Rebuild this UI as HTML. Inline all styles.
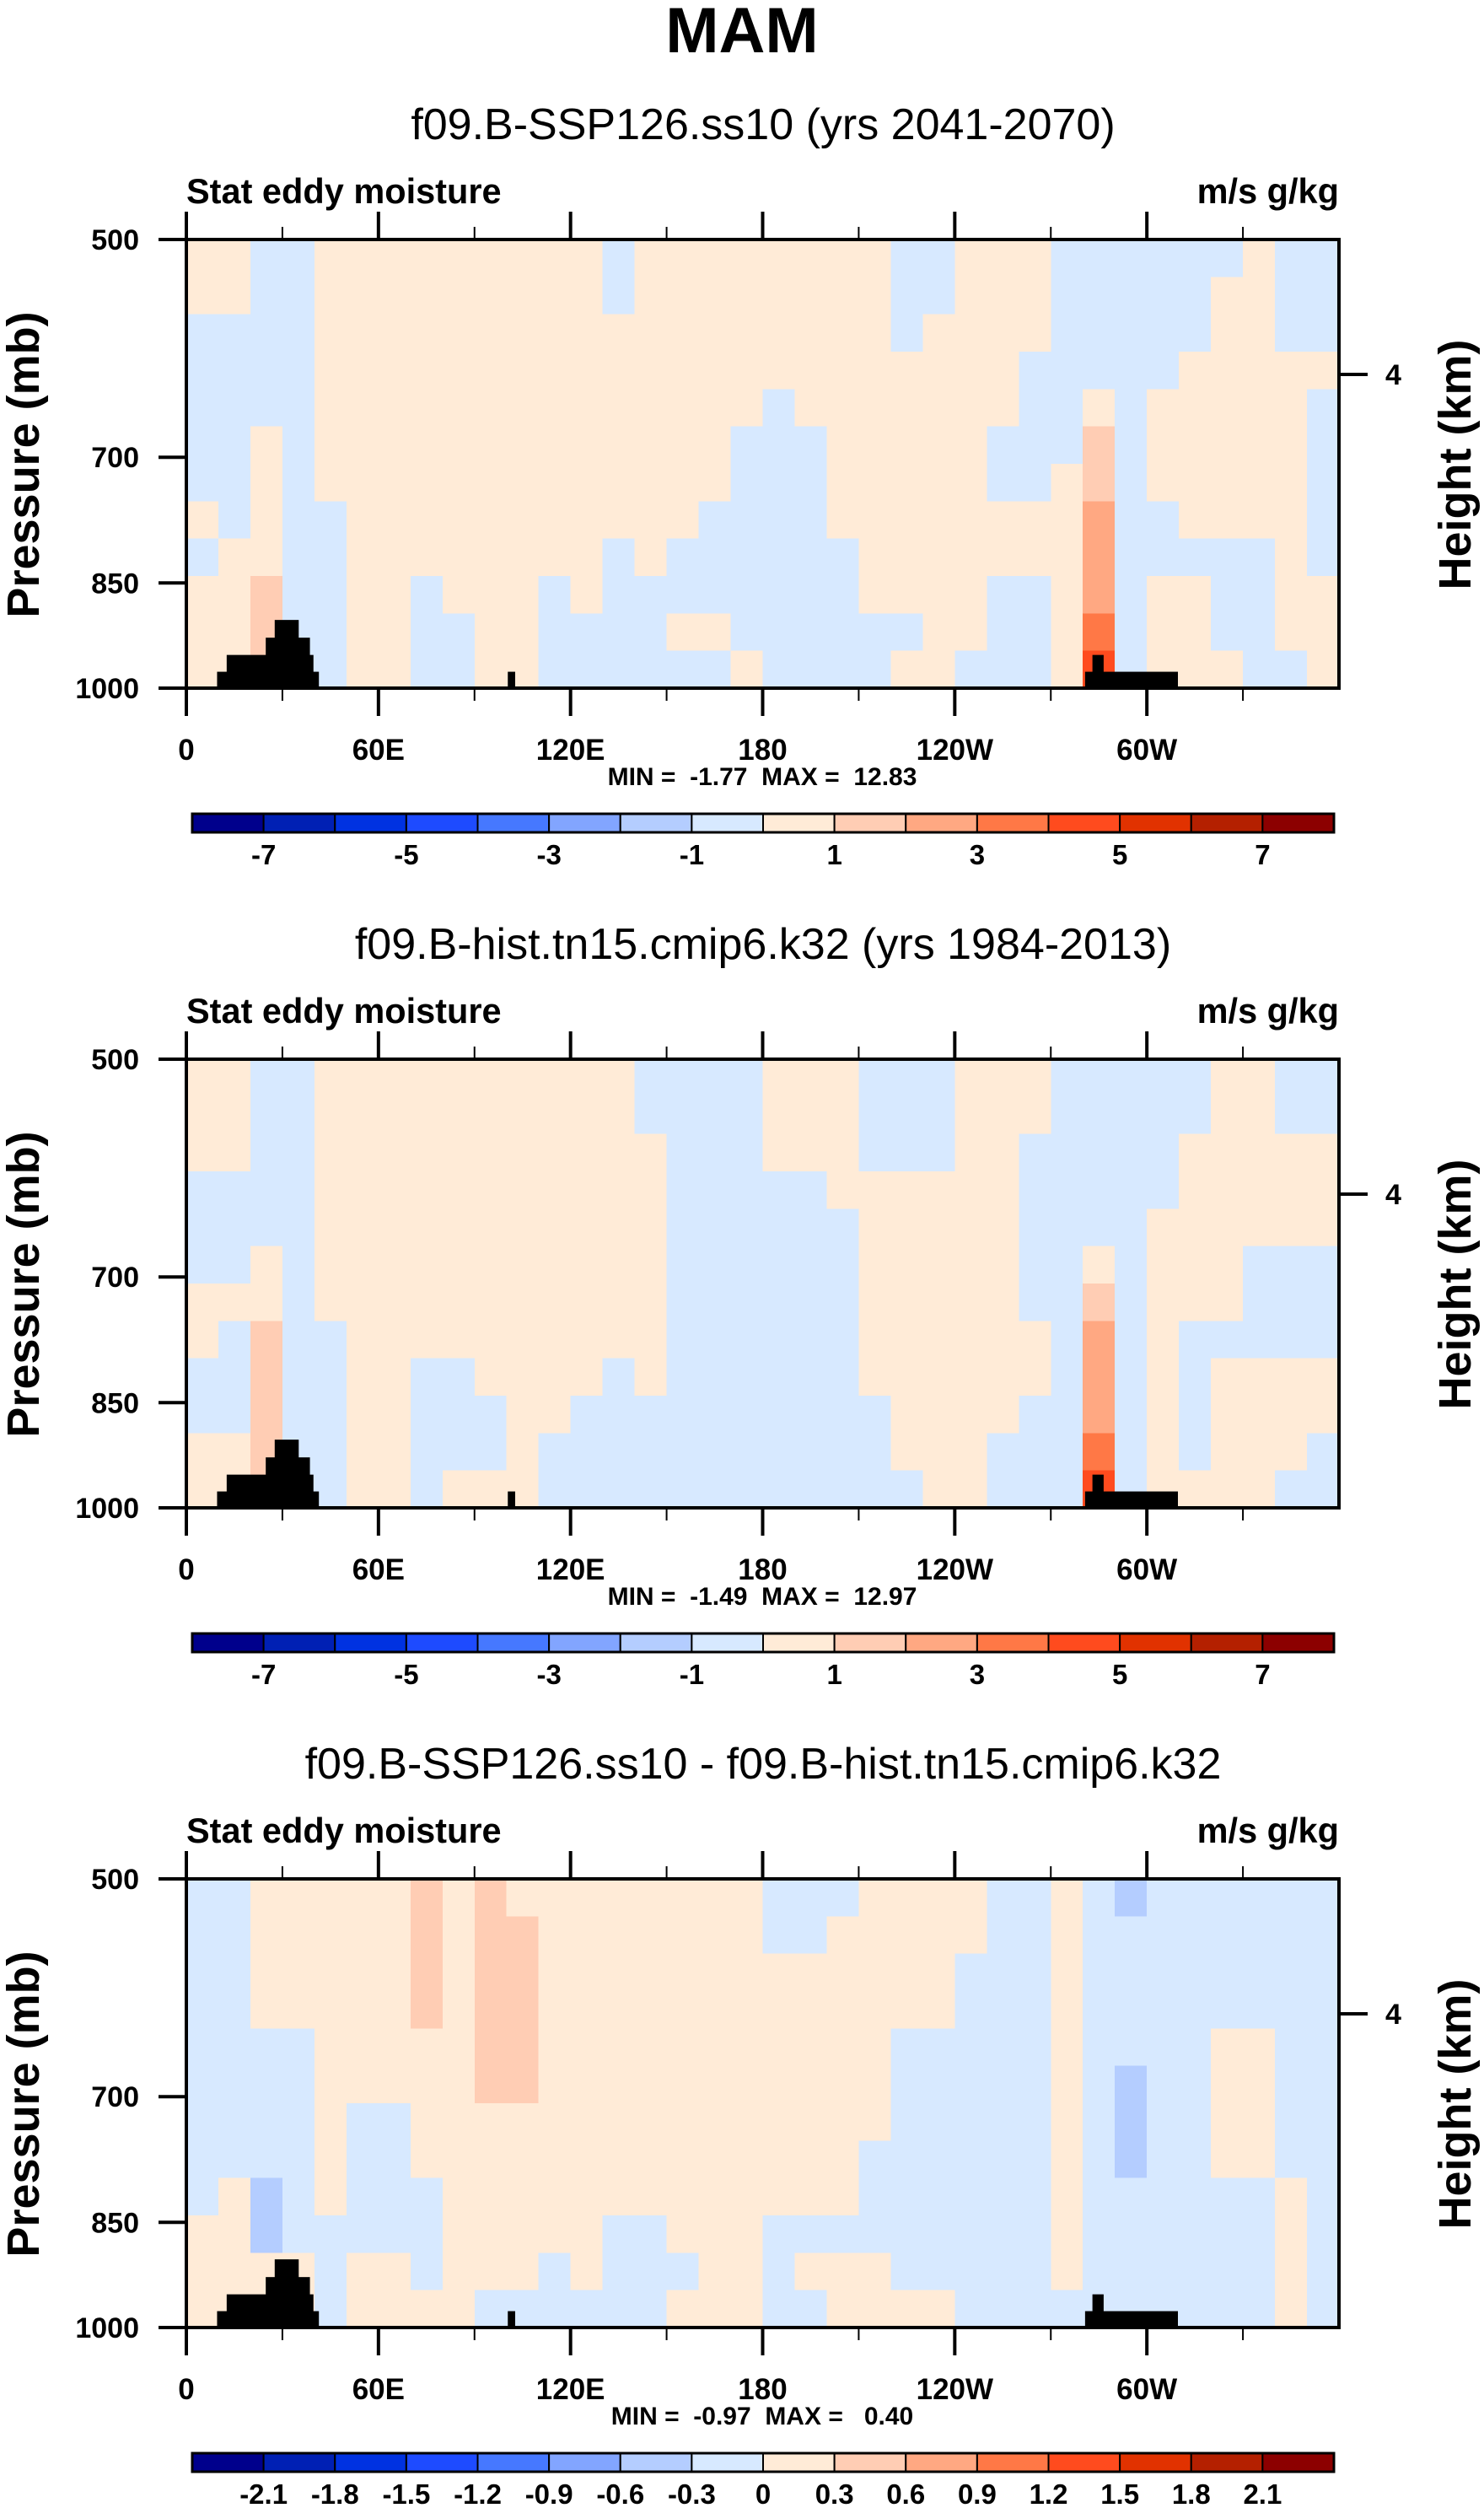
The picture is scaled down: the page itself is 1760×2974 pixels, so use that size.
<!DOCTYPE html>
<html><head><meta charset="utf-8">
<style>
html,body{margin:0;padding:0;background:#fff;}
svg{display:block;font-family:"Liberation Sans",sans-serif;}
.pre{white-space:pre;}
</style></head>
<body>
<svg id="fig" width="1760" height="2974" viewBox="0 0 1760 2974" xmlns="http://www.w3.org/2000/svg">
<text x="880" y="62" text-anchor="middle" font-size="76" font-weight="bold">MAM</text>
</svg>
<script>
// ---------- data ----------
const lonTicks = [0, 60, 120, 180, 240, 300];
const lonTickLabels = ["0", "60E", "120E", "180", "120W", "60W"];
const presTicks = [500, 700, 850, 1000];
const presTickLabels = ["500", "700", "850", "1000"];
const levelsA = [-7,-6,-5,-4,-3,-2,-1,0,1,2,3,4,5,6,7];
const levelsALabels = ["-7","","-5","","-3","","-1","","1","","3","","5","","7"];
const levelsD = [-2.1,-1.8,-1.5,-1.2,-0.9,-0.6,-0.3,0,0.3,0.6,0.9,1.2,1.5,1.8,2.1];
const levelsDLabels = ["-2.1","-1.8","-1.5","-1.2","-0.9","-0.6","-0.3","0","0.3","0.6","0.9","1.2","1.5","1.8","2.1"];
const palette = ["#00008c","#0020b4","#0032e1","#1e4bff","#4678ff","#82a5ff","#b4cdff","#d7e9ff","#ffebd7","#ffcdb4","#ffa882","#ff7846","#ff4b1e","#e13200","#b42000","#8c0000"];
const panelTitles = ["f09.B-SSP126.ss10 (yrs 2041-2070)","f09.B-hist.tn15.cmip6.k32 (yrs 1984-2013)","f09.B-SSP126.ss10 - f09.B-hist.tn15.cmip6.k32"];
const panelMin = ["-1.77","-1.49","-0.97"];
const panelMax = ["12.83","12.97"," 0.40"];
// topography blocks: [lonStart, lonEnd, pressureTop]
const topoLon0 = [9.6, 12.6, 24.8, 27.6, 100.4, 280.7, 283.0];
const topoLon1 = [41.4, 39.7, 38.6, 35.1, 102.7, 309.7, 286.5];
const topoPres = [975, 950, 925, 900, 975, 975, 950];

// field columns (10 deg each, 0..350), each column 12 bands top(500mb) -> bottom(1000mb)
const field1 = [
[.5,.5,-.5,-.5,-.5,-.5,-.5,.5,-.5,.5,.5,.5],
[.5,.5,-.5,-.5,-.5,-.5,-.5,-.5,.5,.5,.5,.5],
[-.5,-.5,-.5,-.5,-.5,.5,.5,.5,.5,1.5,1.5,1.5],
[-.5,-.5,-.5,-.5,-.5,-.5,-.5,-.5,-.5,-.5,-.5,-.5],
[.5,.5,.5,.5,.5,.5,.5,-.5,-.5,-.5,-.5,-.5],
[.5,.5,.5,.5,.5,.5,.5,.5,.5,.5,.5,.5],
[.5,.5,.5,.5,.5,.5,.5,.5,.5,.5,.5,.5],
[.5,.5,.5,.5,.5,.5,.5,.5,.5,-.5,-.5,-.5],
[.5,.5,.5,.5,.5,.5,.5,.5,.5,.5,-.5,-.5],
[.5,.5,.5,.5,.5,.5,.5,.5,.5,.5,.5,.5],
[.5,.5,.5,.5,.5,.5,.5,.5,.5,.5,.5,.5],
[.5,.5,.5,.5,.5,.5,.5,.5,.5,-.5,-.5,-.5],
[.5,.5,.5,.5,.5,.5,.5,.5,.5,.5,-.5,-.5],
[-.5,-.5,.5,.5,.5,.5,.5,.5,-.5,-.5,-.5,-.5],
[.5,.5,.5,.5,.5,.5,.5,.5,.5,-.5,-.5,-.5],
[.5,.5,.5,.5,.5,.5,.5,.5,-.5,-.5,.5,-.5],
[.5,.5,.5,.5,.5,.5,.5,-.5,-.5,-.5,.5,-.5],
[.5,.5,.5,.5,.5,-.5,-.5,-.5,-.5,-.5,-.5,.5],
[.5,.5,.5,.5,-.5,-.5,-.5,-.5,-.5,-.5,-.5,-.5],
[.5,.5,.5,.5,.5,-.5,-.5,-.5,-.5,-.5,-.5,-.5],
[.5,.5,.5,.5,.5,.5,.5,.5,-.5,-.5,-.5,-.5],
[.5,.5,.5,.5,.5,.5,.5,.5,.5,.5,-.5,-.5],
[-.5,-.5,-.5,.5,.5,.5,.5,.5,.5,.5,-.5,.5],
[-.5,-.5,.5,.5,.5,.5,.5,.5,.5,.5,.5,.5],
[.5,.5,.5,.5,.5,.5,.5,.5,.5,.5,.5,-.5],
[.5,.5,.5,.5,.5,-.5,-.5,.5,.5,-.5,-.5,-.5],
[.5,.5,.5,-.5,-.5,-.5,-.5,.5,.5,-.5,-.5,-.5],
[-.5,-.5,-.5,-.5,-.5,-.5,.5,.5,.5,.5,.5,.5],
[-.5,-.5,-.5,-.5,.5,1.5,1.5,2.5,2.5,2.5,3.5,4.5],
[-.5,-.5,-.5,-.5,-.5,-.5,-.5,-.5,-.5,-.5,-.5,-.5],
[-.5,-.5,-.5,-.5,.5,.5,.5,-.5,-.5,.5,.5,.5],
[-.5,-.5,-.5,.5,.5,.5,.5,.5,-.5,.5,.5,.5],
[-.5,.5,.5,.5,.5,.5,.5,.5,-.5,-.5,-.5,.5],
[.5,.5,.5,.5,.5,.5,.5,.5,-.5,-.5,-.5,-.5],
[-.5,-.5,-.5,.5,.5,.5,.5,.5,.5,.5,.5,-.5],
[-.5,-.5,-.5,.5,-.5,-.5,-.5,-.5,-.5,.5,.5,.5]
];
const field2 = [
[.5,.5,.5,-.5,-.5,-.5,.5,.5,-.5,-.5,.5,.5],
[.5,.5,.5,-.5,-.5,-.5,.5,-.5,-.5,-.5,.5,.5],
[-.5,-.5,-.5,-.5,-.5,.5,.5,1.5,1.5,1.5,1.5,1.5],
[-.5,-.5,-.5,-.5,-.5,-.5,-.5,-.5,-.5,-.5,-.5,-.5],
[.5,.5,.5,.5,.5,.5,.5,-.5,-.5,-.5,-.5,-.5],
[.5,.5,.5,.5,.5,.5,.5,.5,.5,.5,.5,.5],
[.5,.5,.5,.5,.5,.5,.5,.5,.5,.5,.5,.5],
[.5,.5,.5,.5,.5,.5,.5,.5,-.5,-.5,-.5,-.5],
[.5,.5,.5,.5,.5,.5,.5,.5,-.5,-.5,-.5,.5],
[.5,.5,.5,.5,.5,.5,.5,.5,.5,-.5,-.5,.5],
[.5,.5,.5,.5,.5,.5,.5,.5,.5,.5,.5,.5],
[.5,.5,.5,.5,.5,.5,.5,.5,.5,.5,-.5,-.5],
[.5,.5,.5,.5,.5,.5,.5,.5,.5,-.5,-.5,-.5],
[.5,.5,.5,.5,.5,.5,.5,.5,-.5,-.5,-.5,-.5],
[-.5,-.5,.5,.5,.5,.5,.5,.5,.5,-.5,-.5,-.5],
[-.5,-.5,-.5,-.5,-.5,-.5,-.5,-.5,-.5,-.5,-.5,-.5],
[-.5,-.5,-.5,-.5,-.5,-.5,-.5,-.5,-.5,-.5,-.5,-.5],
[-.5,-.5,-.5,-.5,-.5,-.5,-.5,-.5,-.5,-.5,-.5,-.5],
[.5,.5,.5,-.5,-.5,-.5,-.5,-.5,-.5,-.5,-.5,-.5],
[.5,.5,.5,-.5,-.5,-.5,-.5,-.5,-.5,-.5,-.5,-.5],
[.5,.5,.5,.5,-.5,-.5,-.5,-.5,-.5,-.5,-.5,-.5],
[-.5,-.5,-.5,.5,.5,.5,.5,.5,.5,-.5,-.5,-.5],
[-.5,-.5,-.5,.5,.5,.5,.5,.5,.5,.5,.5,-.5],
[-.5,-.5,-.5,.5,.5,.5,.5,.5,.5,.5,.5,.5],
[.5,.5,.5,.5,.5,.5,.5,.5,.5,.5,.5,.5],
[.5,.5,.5,.5,.5,.5,.5,.5,.5,.5,-.5,-.5],
[.5,.5,-.5,-.5,-.5,-.5,-.5,.5,.5,-.5,-.5,-.5],
[-.5,-.5,-.5,-.5,-.5,-.5,-.5,-.5,-.5,-.5,-.5,-.5],
[-.5,-.5,-.5,-.5,-.5,.5,1.5,2.5,2.5,2.5,3.5,4.5],
[-.5,-.5,-.5,-.5,-.5,-.5,-.5,-.5,-.5,-.5,-.5,-.5],
[-.5,-.5,-.5,-.5,.5,.5,.5,.5,.5,.5,.5,.5],
[-.5,-.5,.5,.5,.5,.5,.5,-.5,-.5,-.5,-.5,.5],
[.5,.5,.5,.5,.5,.5,.5,-.5,.5,.5,.5,.5],
[.5,.5,.5,.5,.5,-.5,-.5,-.5,.5,.5,.5,.5],
[-.5,-.5,.5,.5,.5,-.5,-.5,-.5,.5,.5,.5,-.5],
[-.5,-.5,.5,.5,.5,-.5,-.5,-.5,.5,.5,-.5,-.5]
];
const field3 = [
[-.15,-.15,-.15,-.15,-.15,-.15,-.15,-.15,-.15,.15,.15,.15],
[-.15,-.15,-.15,-.15,-.15,-.15,-.15,-.15,.15,.15,.15,.15],
[.15,.15,.15,.15,-.15,-.15,-.15,-.15,-.45,-.45,.15,.15],
[.15,.15,.15,.15,-.15,-.15,-.15,-.15,-.15,-.15,.15,.15],
[.15,.15,.15,.15,.15,.15,.15,.15,.15,-.15,-.15,-.15],
[.15,.15,.15,.15,.15,.15,-.15,-.15,-.15,-.15,.15,.15],
[.15,.15,.15,.15,.15,.15,-.15,-.15,-.15,-.15,.15,.15],
[.45,.45,.45,.45,.15,.15,.15,.15,-.15,-.15,-.15,.15],
[.15,.15,.15,.15,.15,.15,.15,.15,.15,.15,.15,.15],
[.45,.45,.45,.45,.45,.45,.15,.15,.15,.15,.15,-.15],
[.15,.45,.45,.45,.45,.45,.15,.15,.15,.15,.15,-.15],
[.15,.15,.15,.15,.15,.15,.15,.15,.15,.15,-.15,-.15],
[.15,.15,.15,.15,.15,.15,.15,.15,.15,.15,.15,-.15],
[.15,.15,.15,.15,.15,.15,.15,.15,.15,-.15,-.15,-.15],
[.15,.15,.15,.15,.15,.15,.15,.15,.15,-.15,-.15,-.15],
[.15,.15,.15,.15,.15,.15,.15,.15,.15,.15,-.15,.15],
[.15,.15,.15,.15,.15,.15,.15,.15,.15,.15,.15,.15],
[.15,.15,.15,.15,.15,.15,.15,.15,.15,.15,.15,.15],
[-.15,-.15,.15,.15,.15,.15,.15,.15,.15,-.15,-.15,-.15],
[-.15,-.15,.15,.15,.15,.15,.15,.15,.15,-.15,.15,-.15],
[-.15,.15,.15,.15,.15,.15,.15,.15,.15,-.15,.15,.15],
[.15,.15,.15,.15,.15,.15,.15,-.15,-.15,-.15,.15,.15],
[.15,.15,.15,.15,-.15,-.15,-.15,-.15,-.15,-.15,-.15,.15],
[.15,.15,.15,.15,-.15,-.15,-.15,-.15,-.15,-.15,-.15,.15],
[.15,.15,-.15,-.15,-.15,-.15,-.15,-.15,-.15,-.15,-.15,-.15],
[-.15,-.15,-.15,-.15,-.15,-.15,-.15,-.15,-.15,-.15,-.15,-.15],
[-.15,-.15,-.15,-.15,-.15,-.15,-.15,-.15,-.15,-.15,-.15,-.15],
[.15,.15,.15,.15,.15,.15,.15,.15,.15,.15,.15,-.15],
[-.15,-.15,-.15,-.15,-.15,-.15,-.15,-.15,-.15,-.15,-.15,-.15],
[-.45,-.15,-.15,-.15,-.15,-.45,-.45,-.45,-.15,-.15,-.15,-.15],
[-.15,-.15,-.15,-.15,-.15,-.15,-.15,-.15,-.15,-.15,-.15,-.15],
[-.15,-.15,-.15,-.15,-.15,-.15,-.15,-.15,-.15,-.15,-.15,-.15],
[-.15,-.15,-.15,-.15,.15,.15,.15,.15,-.15,-.15,-.15,-.15],
[-.15,-.15,-.15,-.15,.15,.15,.15,.15,-.15,-.15,-.15,-.15],
[-.15,-.15,-.15,-.15,-.15,-.15,-.15,-.15,.15,.15,.15,.15],
[-.15,-.15,-.15,-.15,-.15,-.15,-.15,-.15,-.15,-.15,-.15,-.15]
];

// ---------- drawing ----------
const NS = "http://www.w3.org/2000/svg";
const svg = document.getElementById("fig");
const PL = 221, PR = 1588, PT = 284, PB = 816, DY = 972;
const CBL = 228, CBR = 1582, CBT = 965, CBB = 987;
function mk(tag, attrs, parent) {
  const e = document.createElementNS(NS, tag);
  for (const k in attrs) e.setAttribute(k, attrs[k]);
  (parent || svg).appendChild(e);
  return e;
}
function xScale(lon) { return PL + (lon / 360) * (PR - PL); }
function yScale(p, dy) { return PT + dy + (Math.log(p / 500) / Math.log(2)) * (PB - PT); }
function yFrac(f, dy) { return PT + dy + f * (PB - PT); }
function colorFor(v, levels) {
  let i = 0;
  while (i < levels.length && v >= levels[i]) i++;
  return palette[i];
}

const fields = [field1, field2, field3];
const levelSets = [levelsA, levelsA, levelsD];
const levelLabelSets = [levelsALabels, levelsALabels, levelsDLabels];

for (let k = 0; k < 3; k++) {
  const dy = k * DY;
  const g = mk("g", {});
  
  

  const st = mk("text", {x: 905, y: 165 + dy, "text-anchor": "middle", "font-size": 52}, g);
  st.textContent = panelTitles[k];
  
  

  const lt = mk("text", {x: PL, y: 241 + dy, "font-size": 41.5, "font-weight": "bold"}, g);
  lt.textContent = "Stat eddy moisture";
  
  
  const rt = mk("text", {x: PR, y: 241 + dy, "text-anchor": "end", "font-size": 41.5, "font-weight": "bold"}, g);
  rt.textContent = "m/s g/kg";
  
  

  // field cells
  const field = fields[k];
  const nc = field.length;
  const fg = mk("g", {"shape-rendering": "crispEdges"}, g);
  
  
  for (let c = 0; c < nc; c++) {
    const col = field[c];
    const nr = col.length;
    const x0 = xScale(c * 360 / nc), x1 = xScale((c + 1) * 360 / nc);
    for (let r = 0; r < nr; r++) {
      const y0 = yFrac(r / nr, dy), y1 = yFrac((r + 1) / nr, dy);
      const cell = mk("rect", {x: x0, y: y0, width: x1 - x0 + 0.6, height: y1 - y0 + 0.6, fill: colorFor(col[r], levelSets[k])}, fg);
      
      
    }
  }
  // topography
  for (let i = 0; i < topoLon0.length; i++) {
    const x0 = xScale(topoLon0[i]), x1 = xScale(topoLon1[i]);
    const y0 = yScale(topoPres[i], dy);
    const t = mk("rect", {x: x0, y: y0, width: x1 - x0, height: PB + dy - y0, fill: "#000"}, g);
    
    
  }
  // frame
  const fr = mk("rect", {x: PL, y: PT + dy, width: PR - PL, height: PB - PT, fill: "none", stroke: "#000", "stroke-width": 4}, g);
  
  

  // x ticks
  for (let lon = 0; lon <= 330; lon += 30) {
    const x = xScale(lon);
    const major = lon % 60 === 0;
    const len = major ? 33 : 15;
    const t1 = mk("line", {x1: x, x2: x, y1: PT + dy - len, y2: PT + dy, stroke: "#000", "stroke-width": major ? 4 : 2}, g);
    
    
    const t2 = mk("line", {x1: x, x2: x, y1: PB + dy, y2: PB + dy + len, stroke: "#000", "stroke-width": major ? 4 : 2}, g);
    
    
  }
  for (let i = 0; i < lonTicks.length; i++) {
    const tl = mk("text", {x: xScale(lonTicks[i]), y: 901 + dy, "text-anchor": "middle", "font-size": 35, "font-weight": "bold"}, g);
    tl.textContent = lonTickLabels[i];
    
    
  }
  // y ticks
  for (let i = 0; i < presTicks.length; i++) {
    const y = yScale(presTicks[i], dy);
    const yt = mk("line", {x1: 188, x2: PL, y1: y, y2: y, stroke: "#000", "stroke-width": 4}, g);
    
    
    const yl = mk("text", {x: 165, y: y + 12, "text-anchor": "end", "font-size": 34, "font-weight": "bold"}, g);
    yl.textContent = presTickLabels[i];
    
    
  }
  const rtk = mk("line", {x1: PR, x2: 1622, y1: 444 + dy, y2: 444 + dy, stroke: "#000", "stroke-width": 4}, g);
  
  
  const rtl = mk("text", {x: 1643, y: 456 + dy, "font-size": 34, "font-weight": "bold"}, g);
  rtl.textContent = "4";
  
  

  const yat = mk("text", {x: 0, y: 0, "text-anchor": "middle", "font-size": 54, "font-weight": "bold", transform: "translate(46," + (551 + dy) + ") rotate(-90)"}, g);
  yat.textContent = "Pressure (mb)";
  
  
  const rat = mk("text", {x: 0, y: 0, "text-anchor": "middle", "font-size": 54, "font-weight": "bold", transform: "translate(1744," + (551 + dy) + ") rotate(-90)"}, g);
  rat.textContent = "Height (km)";
  
  

  const mm = mk("text", {x: 904, y: 931 + dy, "text-anchor": "middle", "font-size": 30, "font-weight": "bold", "class": "pre"}, g);
  mm.textContent = "MIN =  " + panelMin[k] + "  MAX =  " + panelMax[k];
  
  

  // colorbar
  const cb = mk("g", {}, g);
  
  
  const bw = (CBR - CBL) / palette.length;
  for (let i = 0; i < palette.length; i++) {
    const b = mk("rect", {x: CBL + i * bw, y: CBT + dy, width: bw, height: CBB - CBT, fill: palette[i], stroke: "#000", "stroke-width": 2}, cb);
    
    
  }
  const cbf = mk("rect", {x: CBL, y: CBT + dy, width: CBR - CBL, height: CBB - CBT, fill: "none", stroke: "#000", "stroke-width": 3}, cb);
  
  
  const labs = levelLabelSets[k];
  for (let i = 0; i < labs.length; i++) {
    if (!labs[i]) continue;
    const cl = mk("text", {x: CBL + (i + 1) * bw, y: 1025 + dy, "text-anchor": "middle", "font-size": 33, "font-weight": "bold"}, cb);
    cl.textContent = labs[i];
    
    
  }
}
</script>
</body></html>
